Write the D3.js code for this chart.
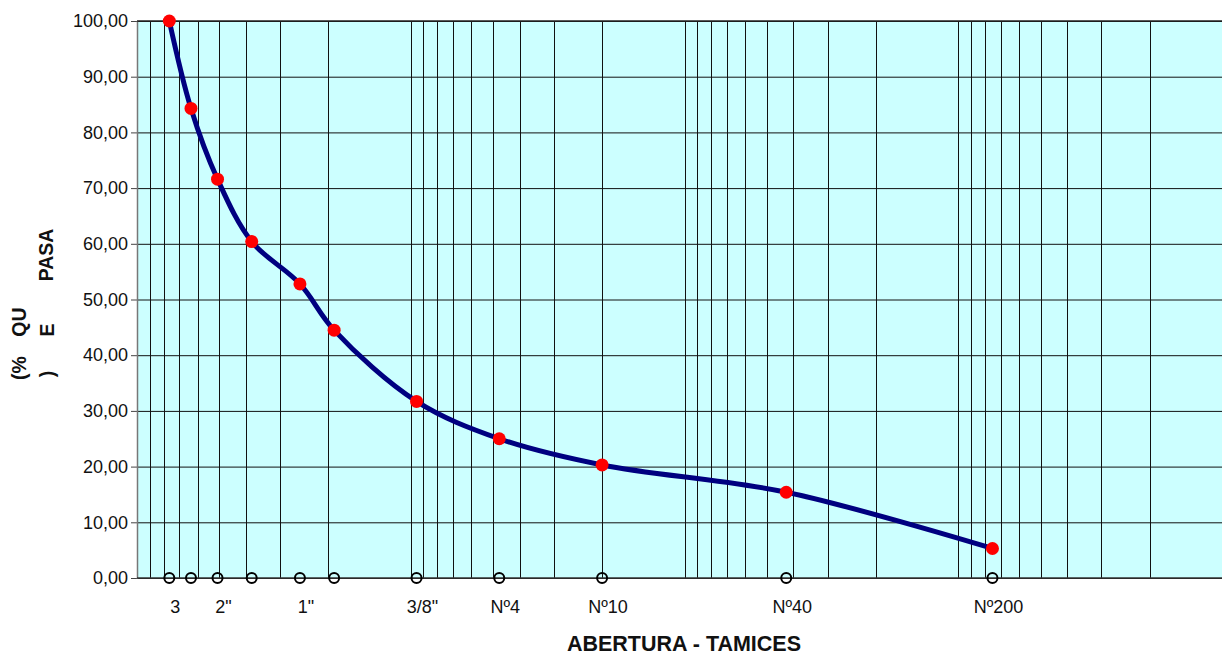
<!DOCTYPE html>
<html>
<head>
<meta charset="utf-8">
<script src="https://cdn.jsdelivr.net/npm/d3@7"></script>
<style>
  body { margin: 0; background: #fff; }
  svg { display: block; font-family: "Liberation Sans", Arial, sans-serif; }
</style>
</head>
<body>
<svg width="1222" height="655"></svg>
<script>
// sieve openings (mm) and % passing
var sizes   = [76.2, 63.5, 50.8, 38.1, 25.4, 19.05, 9.525, 4.75, 2.0, 0.425, 0.075],
    passing = [100, 84.3, 71.6, 60.4, 52.8, 44.5, 31.7, 25.0, 20.3, 15.4, 5.3];

// labelled sieves on the x axis
var tickSizes  = [76.2, 50.8, 25.4, 9.525, 4.75, 2.0, 0.425, 0.075],
    tickLabels = ["3", "2\"", "1\"", "3/8\"", "Nº4", "Nº10", "Nº40", "Nº200"];

var yTicks = [0, 10, 20, 30, 40, 50, 60, 70, 80, 90, 100];
var decades = [0.01, 0.1, 1, 10];   // log grid: 1..9 x each decade, plus 100

var svg = d3.select("svg"),
    pLeft = 137, pRight = 1232, pTop = 21, pBottom = 578;

var x = d3.scaleLog().domain([100, 0.01]).range([pLeft, pRight]),
    y = d3.scaleLinear().domain([0, 100]).range([pBottom, pTop]);

var fmt = function(v){ return d3.format(".2f")(v).replace(".", ","); };

svg.append("rect")
    .attr("x", pLeft).attr("y", pTop)
    .attr("width", pRight - pLeft).attr("height", pBottom - pTop)
    .attr("fill", "#ccffff");

// vertical log grid
var gridX = [100];
decades.forEach(function(d){ for (var m = 1; m < 10; m++) gridX.push(d * m); });

svg.append("g").attr("class", "gridx")
  .selectAll("line")
  .data(gridX)
  .enter().append("line")
    .attr("x1", function(d){ return Math.round(x(d)) + 0.5; })
    .attr("x2", function(d){ return Math.round(x(d)) + 0.5; })
    .attr("y1", pTop).attr("y2", pBottom)
    .attr("stroke", "#111").attr("stroke-width", 1);

// horizontal grid + y axis
var yAxis = d3.axisLeft(y).tickValues(yTicks).tickFormat(fmt)
    .tickSize(-(pRight - pLeft)).tickPadding(9);

var gy = svg.append("g")
    .attr("transform", "translate(" + pLeft + ",0)")
    .call(yAxis);
gy.select(".domain").remove();
gy.selectAll(".tick line").attr("stroke", "#111");
gy.selectAll(".tick").append("line")
    .attr("x1", -6).attr("x2", 0).attr("stroke", "#444");
gy.selectAll("text")
    .attr("font-size", 18).attr("fill", "#111")
    .style("font-family", "'Liberation Sans', Arial, sans-serif");

svg.append("line")
    .attr("x1", pLeft + 0.5).attr("x2", pLeft + 0.5)
    .attr("y1", pTop).attr("y2", pBottom + 1)
    .attr("stroke", "#777").attr("stroke-width", 1.5);
svg.append("line")
    .attr("x1", pLeft).attr("x2", pRight)
    .attr("y1", pBottom).attr("y2", pBottom)
    .attr("stroke", "#333").attr("stroke-width", 1.5);
svg.append("line")
    .attr("x1", pLeft).attr("x2", pRight)
    .attr("y1", pTop).attr("y2", pTop)
    .attr("stroke", "#222").attr("stroke-width", 1.5);

// x tick labels
svg.append("g").attr("class", "xlabels")
  .selectAll("text")
  .data(tickSizes)
  .enter().append("text")
    .attr("x", function(d){ return x(d) + 6; })
    .attr("y", 613)
    .attr("text-anchor", "middle")
    .attr("font-size", 18).attr("fill", "#111")
    .text(function(d, i){ return tickLabels[i]; });

// open circles on the 0 line
svg.append("g").attr("class", "base")
  .selectAll("circle")
  .data(sizes)
  .enter().append("circle")
    .attr("cx", function(d){ return x(d); })
    .attr("cy", y(0))
    .attr("r", 5)
    .attr("fill", "none").attr("stroke", "#000").attr("stroke-width", 2);

// curve
var pts = sizes.map(function(s, i){ return [x(s), y(passing[i])]; });

svg.append("path")
    .attr("d", d3.line().curve(d3.curveCatmullRom.alpha(0.5))(pts))
    .attr("fill", "none")
    .attr("stroke", "#000080")
    .attr("stroke-width", 5)
    .attr("stroke-linejoin", "round");

svg.append("g").attr("class", "dots")
  .selectAll("circle")
  .data(pts)
  .enter().append("circle")
    .attr("cx", function(d){ return d[0]; })
    .attr("cy", function(d){ return d[1]; })
    .attr("r", 6.5)
    .attr("fill", "#ff0000");

// axis titles
svg.append("text")
    .attr("x", 684).attr("y", 651)
    .attr("text-anchor", "middle")
    .attr("font-size", 21.5).attr("font-weight", "bold").attr("fill", "#111")
    .text("ABERTURA - TAMICES");

// y title, wrapped the way the original wraps it
var yTitle = [
  {t: "(%", cx: 19, cy: 368},
  {t: "QU", cx: 19, cy: 322},
  {t: ")", cx: 47, cy: 374},
  {t: "E", cx: 47, cy: 330},
  {t: "PASA", cx: 46, cy: 255}
];
svg.append("g").attr("class", "ytitle")
  .selectAll("text")
  .data(yTitle)
  .enter().append("text")
    .attr("transform", function(d){ return "translate(" + d.cx + "," + d.cy + ") rotate(-90)"; })
    .attr("text-anchor", "middle")
    .attr("dy", "0.36em")
    .attr("font-size", 19.5).attr("font-weight", "bold").attr("fill", "#111")
    .text(function(d){ return d.t; });
</script>
</body>
</html>
